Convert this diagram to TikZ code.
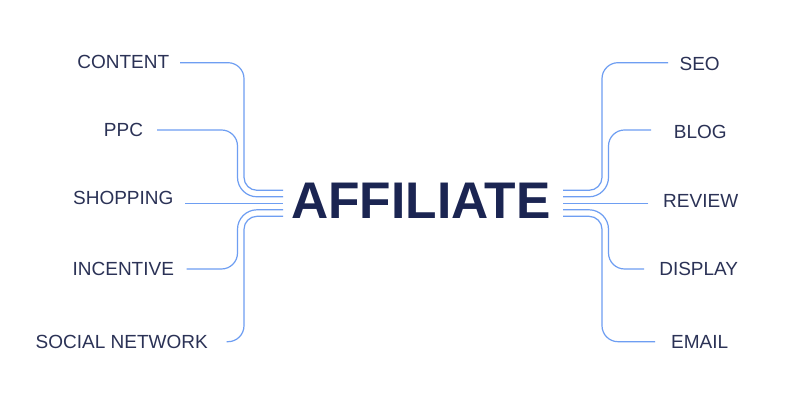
\documentclass[tikz,border=0pt]{standalone}
\usepackage{fontspec}
\setmainfont{Liberation Sans}
\definecolor{linkblue}{HTML}{6E9EF2}
\definecolor{labelnavy}{HTML}{2B3256}
\definecolor{titlenavy}{HTML}{1B2552}
\begin{document}
\begin{tikzpicture}[x=1pt,y=1pt,
  conn/.style={draw=linkblue,line width=1.2pt},
  lbl/.style={anchor=base,inner sep=0pt,text=labelnavy,font=\fontsize{19}{19}\selectfont},
  ttl/.style={anchor=base,inner sep=0pt,text=titlenavy,font=\fontsize{51.5}{52}\selectfont\bfseries}]
\useasboundingbox[fill=white] (0,0) rectangle (806,401);
% title
\node[ttl] (aff) at (421,182) {AFFILIATE};
% labels left
\node[lbl] (content) at (123.3,332) {CONTENT};
\node[lbl] (ppc) at (123.5,264) {PPC};
\node[lbl] (shopping) at (123.3,196) {SHOPPING};
\node[lbl] (incentive) at (123.3,125.3) {INCENTIVE};
\node[lbl] (social) at (121.7,52.7) {SOCIAL NETWORK};
% labels right
\node[lbl] (seo) at (699.7,330.3) {SEO};
\node[lbl] (blog) at (700.3,262.7) {BLOG};
\node[lbl] (review) at (700.7,193.7) {REVIEW};
\node[lbl] (display) at (698.7,125) {DISPLAY};
\node[lbl] (email) at (699.7,52.7) {EMAIL};
% connector ends
\coordinate (sContent) at (180,338.3);
\coordinate (sPpc) at (157,271);
\coordinate (sShop) at (185,197.7);
\coordinate (sInc) at (186.7,132);
\coordinate (sSoc) at (226.7,59.3);
\coordinate (eL1) at (283,210.7);
\coordinate (eL2) at (283,204.2);
\coordinate (eL3) at (283,197.7);
\coordinate (eL4) at (283,191.2);
\coordinate (eL5) at (283,184.7);
\coordinate (sSeo) at (668,338.3);
\coordinate (sBlog) at (651,271);
\coordinate (sRev) at (648.3,197.7);
\coordinate (sDisp) at (644,132);
\coordinate (sMail) at (655,59.3);
\coordinate (eR1) at (563,210.7);
\coordinate (eR2) at (563,204.2);
\coordinate (eR3) at (563,197.7);
\coordinate (eR4) at (563,191.2);
\coordinate (eR5) at (563,184.7);
% left connectors
\draw[conn] (sContent) -- (228,338.3) arc[start angle=90,end angle=0,radius=16]
  -- (244,223.7) arc[start angle=180,end angle=270,radius=13] -- (eL1);
\draw[conn] (sPpc) -- (221.5,271) arc[start angle=90,end angle=0,radius=16]
  -- (237.5,223.7) arc[start angle=180,end angle=270,radius=19.5] -- (eL2);
\draw[conn] (sShop) -- (eL3);
\draw[conn] (sInc) -- (221.5,132) arc[start angle=270,end angle=360,radius=16]
  -- (237.5,171.7) arc[start angle=180,end angle=90,radius=19.5] -- (eL4);
\draw[conn] (sSoc) -- (228,59.3) arc[start angle=270,end angle=360,radius=16]
  -- (244,171.7) arc[start angle=180,end angle=90,radius=13] -- (eL5);
% right connectors
\draw[conn] (sSeo) -- (618,338.3) arc[start angle=90,end angle=180,radius=16]
  -- (602,223.7) arc[start angle=0,end angle=-90,radius=13] -- (eR1);
\draw[conn] (sBlog) -- (624.5,271) arc[start angle=90,end angle=180,radius=16]
  -- (608.5,223.7) arc[start angle=0,end angle=-90,radius=19.5] -- (eR2);
\draw[conn] (sRev) -- (eR3);
\draw[conn] (sDisp) -- (624.5,132) arc[start angle=270,end angle=180,radius=16]
  -- (608.5,171.7) arc[start angle=0,end angle=90,radius=19.5] -- (eR4);
\draw[conn] (sMail) -- (618,59.3) arc[start angle=270,end angle=180,radius=16]
  -- (602,171.7) arc[start angle=0,end angle=90,radius=13] -- (eR5);
\end{tikzpicture}
\end{document}
